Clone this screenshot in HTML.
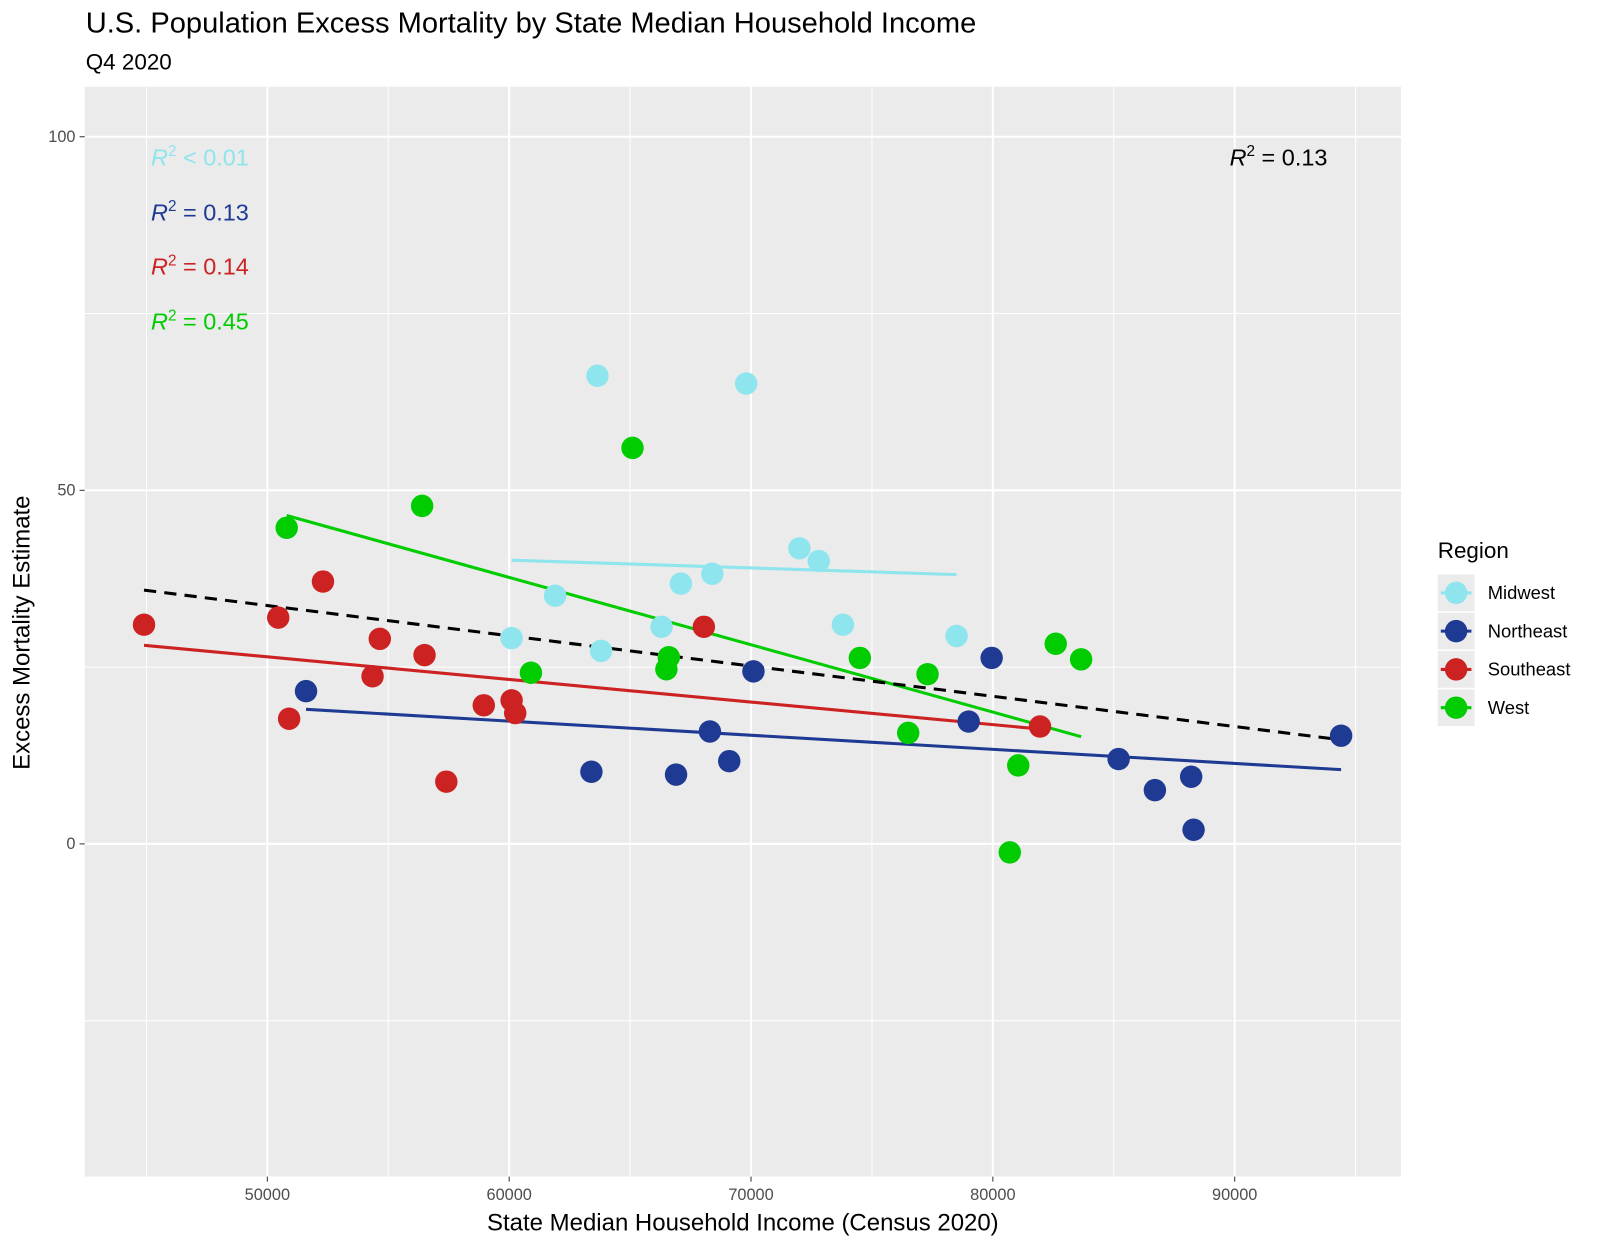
<!DOCTYPE html>
<html><head><meta charset="utf-8"><style>
body{margin:0;background:#fff;font-family:"Liberation Sans",Arial,sans-serif}
svg text{font-family:"Liberation Sans",Arial,sans-serif}
</style></head><body>
<svg id="c" width="1600" height="1248" viewBox="0 0 1568 1223" preserveAspectRatio="none">
<text x="84" y="32" font-size="28.5" fill="#000">U.S. Population Excess Mortality by State Median Household Income</text>
<text x="84" y="68" font-size="22" fill="#000">Q4 2020</text>
<rect x="83" y="85" width="1290" height="1068" fill="#ebebeb"/>
<g id="grid"></g><g id="lines"></g><g id="pts"></g><g id="ticks"></g>
<text x="728" y="1206" font-size="23.5" text-anchor="middle">State Median Household Income (Census 2020)</text>
<text transform="translate(29,620) rotate(-90)" font-size="23.5" text-anchor="middle">Excess Mortality Estimate</text>
<g font-size="23">
<text x="148" y="162" fill="#8ee5ee"><tspan font-style="italic">R</tspan><tspan dy="-9" font-size="15">2</tspan><tspan dy="9"> &lt; 0.01</tspan></text>
<text x="148" y="216" fill="#1f3a93"><tspan font-style="italic">R</tspan><tspan dy="-9" font-size="15">2</tspan><tspan dy="9"> = 0.13</tspan></text>
<text x="148" y="269" fill="#cc2222"><tspan font-style="italic">R</tspan><tspan dy="-9" font-size="15">2</tspan><tspan dy="9"> = 0.14</tspan></text>
<text x="148" y="323" fill="#00cc00"><tspan font-style="italic">R</tspan><tspan dy="-9" font-size="15">2</tspan><tspan dy="9"> = 0.45</tspan></text>
<text x="1205" y="162" fill="#000"><tspan font-style="italic">R</tspan><tspan dy="-9" font-size="15">2</tspan><tspan dy="9"> = 0.13</tspan></text>
</g>
<g>
<text x="1409" y="547" font-size="22">Region</text>
<g id="leg"></g>
</g>
</svg>
<script>
const regions=["Midwest","Northeast","Southeast","West"];
const colors=["#8ee5ee","#1f3a93","#cc2222","#00cc00"];
const midwestX=[63650,69800,72000,72800,68400,67100,61900,66300,73800,78500,60100,63800];
const midwestY=[66.2,65.1,41.8,40.0,38.2,36.8,35.1,30.7,31.0,29.4,29.1,27.3];
const northeastX=[51600,70100,79950,68300,79000,69100,63400,66900,85200,86700,88200,88300,94400];
const northeastY=[21.6,24.4,26.3,15.9,17.3,11.7,10.2,9.8,12.0,7.6,9.5,2.0,15.3];
const southeastX=[44900,50450,52300,50900,54650,54350,56500,57400,58950,60100,60250,68050,81950];
const southeastY=[31.0,32.0,37.1,17.7,29.0,23.7,26.7,8.8,19.6,20.3,18.5,30.7,16.6];
const westX=[50800,56400,65100,60900,66600,66500,74500,77300,76500,82600,83650,81050,80700];
const westY=[44.7,47.8,56.0,24.2,26.4,24.7,26.3,24.0,15.7,28.3,26.1,11.1,-1.2];
const xTicks=[50000,60000,70000,80000,90000];
const yTicks=[0,50,100];
const xMinor=[45000,55000,65000,75000,85000,95000];
const yMinor=[-25,25,75];

const NS="http://www.w3.org/2000/svg";
const sx=v=>262+(v-50000)*0.0237;
const sy=v=>827-v*6.93;
function mk(tag,attrs,parent){const e=document.createElementNS(NS,tag);for(const k in attrs)e.setAttribute(k,attrs[k]);document.getElementById(parent).appendChild(e);return e;}
yMinor.forEach(v=>{const e=mk("line",{x1:83,x2:1373,y1:sy(v),y2:sy(v),stroke:"#fff","stroke-width":1},"grid");

});
xMinor.forEach(v=>{const e=mk("line",{x1:sx(v),x2:sx(v),y1:85,y2:1153,stroke:"#fff","stroke-width":1},"grid");

});
yTicks.forEach(v=>{const e=mk("line",{x1:83,x2:1373,y1:sy(v),y2:sy(v),stroke:"#fff","stroke-width":2},"grid");


const t=mk("text",{x:74,y:sy(v)+5,"font-size":16,fill:"#4d4d4d","text-anchor":"end"},"ticks");t.textContent=v;


const k=mk("line",{x1:78,x2:83,y1:sy(v),y2:sy(v),stroke:"#333"},"ticks");

});
xTicks.forEach(v=>{const e=mk("line",{x1:sx(v),x2:sx(v),y1:85,y2:1153,stroke:"#fff","stroke-width":2},"grid");


const t=mk("text",{x:sx(v),y:1176,"font-size":16,fill:"#4d4d4d","text-anchor":"middle"},"ticks");t.textContent=v;


const k=mk("line",{x1:sx(v),x2:sx(v),y1:1153,y2:1158,stroke:"#333"},"ticks");

});
function fit(X,Y){const n=X.length;const mx=X.reduce((a,b)=>a+b)/n,my=Y.reduce((a,b)=>a+b)/n;let sxy=0,sxx=0;for(let i=0;i<n;i++){sxy+=(X[i]-mx)*(Y[i]-my);sxx+=(X[i]-mx)**2;}const b=sxy/sxx;return [Math.min(...X),Math.max(...X),x=>my+b*(x-mx)];}
const XS=[midwestX,northeastX,southeastX,westX],YS=[midwestY,northeastY,southeastY,westY];
const allX=[].concat(...XS),allY=[].concat(...YS);
XS.forEach((X,g)=>{const [a,b,f]=fit(X,YS[g]);const l=mk("line",{x1:sx(a),y1:sy(f(a)),x2:sx(b),y2:sy(f(b)),stroke:colors[g],"stroke-width":3},"lines");

});
{const [a,b,f]=fit(allX,allY);const l=mk("line",{x1:sx(a),y1:sy(f(a)),x2:sx(b),y2:sy(f(b)),stroke:"#000","stroke-width":3,"stroke-dasharray":"12,8"},"lines");

}
XS.forEach((X,g)=>X.forEach((x,i)=>{const c=mk("circle",{cx:sx(x),cy:sy(YS[g][i]),r:11,fill:colors[g]},"pts");

}));
regions.forEach((r,g)=>{const y=581+g*37.5;
const bg=mk("rect",{x:1409,y:y-18,width:36,height:36,fill:"#ebebeb"},"leg");


const l=mk("line",{x1:1412,x2:1442,y1:y,y2:y,stroke:colors[g],"stroke-width":3},"leg");


const c=mk("circle",{cx:1427,cy:y,r:11,fill:colors[g]},"leg");


const t=mk("text",{x:1458,y:y+6,"font-size":18},"leg");t.textContent=r;

});
</script>
</body></html>
